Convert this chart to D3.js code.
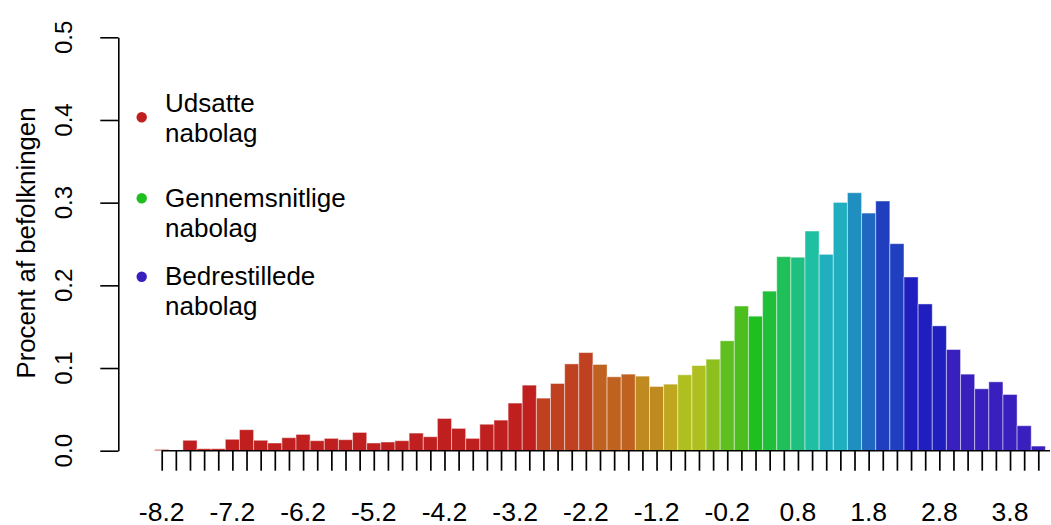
<!DOCTYPE html>
<html>
<head>
<meta charset="utf-8">
<script src="https://cdn.jsdelivr.net/npm/d3@7"></script>
<style>
  html, body { margin: 0; padding: 0; background: #fff; }
  svg { display: block; font-family: "Liberation Sans", Arial, sans-serif; }
</style>
</head>
<body>
<svg id="chart" width="1051" height="525"></svg>
<script>
// ---- data ----
const bins = [-8.2,-8.0,-7.8,-7.6,-7.4,-7.2,-7.0,-6.8,-6.6,-6.4,-6.2,-6.0,-5.8,-5.6,-5.4,-5.2,-5.0,-4.8,-4.6,-4.4,
  -4.2,-4.0,-3.8,-3.6,-3.4,-3.2,-3.0,-2.8,-2.6,-2.4,-2.2,-2.0,-1.8,-1.6,-1.4,-1.2,-1.0,-0.8,-0.6,-0.4,
  -0.2,0.0,0.2,0.4,0.6,0.8,1.0,1.2,1.4,1.6,1.8,2.0,2.2,2.4,2.6,2.8,3.0,3.2,3.4,3.6,3.8,4.0,4.2];
const shares = [0.0015,0,0.0126,0.0024,0.0024,0.0138,0.0254,0.0126,0.0093,0.0157,0.0197,0.0121,0.0149,0.0133,0.0221,0.0093,0.0105,0.0121,0.0213,0.0169,
  0.039,0.027,0.0149,0.032,0.037,0.0576,0.0793,0.0636,0.0813,0.105,0.1187,0.1043,0.0894,0.0926,0.0902,0.0777,0.0805,0.0918,0.103,0.1107,
  0.1329,0.175,0.1627,0.193,0.2347,0.234,0.2657,0.2375,0.3003,0.312,0.2874,0.302,0.2504,0.2101,0.1775,0.151,0.1224,0.0926,0.0749,0.0833,0.068,0.0302,0.0056];
const xTickLabels = ["-8.2","-7.2","-6.2","-5.2","-4.2","-3.2","-2.2","-1.2","-0.2","0.8","1.8","2.8","3.8"];
const yTicks = [0, 0.1, 0.2, 0.3, 0.4, 0.5];
const yTickLabels = ["0.0","0.1","0.2","0.3","0.4","0.5"];
const yTitle = "Procent af befolkningen";
const legendLabels = [["Udsatte","nabolag"],["Gennemsnitlige","nabolag"],["Bedrestillede","nabolag"]];
const legendHues = [0, 120, 250];

// hue ramp over the index axis (colour styling)
const hueStopsX = [-3.0,-2.8,-2.2,-2.0,-1.6,-1.4,-1.2,-1.0,-0.8,-0.6,-0.4,-0.2,0.0,0.2,0.4,0.6,0.8,1.0,1.2,1.4,1.6,1.8,2.0,2.2,2.4,2.8,3.0];
const hueStopsH = [0,12.6,12.6,25,25,40,40,51,66,66,79,96,103,120,130,142,156,170,186,186,198,213,228,228,240,240,250];
const hue = d3.scaleLinear().domain(hueStopsX).range(hueStopsH).clamp(true);
const colorOf = h => d3.hsl(h, 0.72, 0.435).toString();

// ---- layout ----
const svg = d3.select("#chart");
const x = d3.scaleLinear().domain([-8.2, 4.2]).range([161.7, 1038.3]);
const y = d3.scaleLinear().domain([0, 0.5]).range([450.7, 37.3]);
const bw = x(0.2) - x(0);

// bars
svg.append("g").selectAll("rect")
  .data(bins.map((b, i) => ({ b, v: shares[i] })))
  .join("rect")
  .attr("x", d => x(d.b) - bw / 2)
  .attr("width", bw)
  .attr("y", d => y(d.v))
  .attr("height", d => y(0) - y(d.v))
  .attr("fill", d => colorOf(hue(d.b)))
  .attr("stroke", "#ffffff")
  .attr("stroke-opacity", 0.45)
  .attr("stroke-width", 1);

// x axis ticks
const xAxis = d3.axisBottom(x).tickValues(bins).tickSize(20).tickFormat("");
const gx = svg.append("g").attr("transform", `translate(0,${y(0)})`).call(xAxis);
gx.select(".domain").remove();
gx.selectAll(".tick line").attr("stroke", "#000").attr("stroke-width", 1.7);
svg.append("line")
  .attr("x1", x(-8.2)).attr("x2", 1050)
  .attr("y1", y(0)).attr("y2", y(0))
  .attr("stroke", "#000").attr("stroke-width", 1.6);

svg.append("g").selectAll("text")
  .data(xTickLabels)
  .join("text")
  .attr("x", d => x(+d))
  .attr("y", 520.5)
  .attr("text-anchor", "middle")
  .attr("font-size", 26.5)
  .attr("fill", "#000")
  .text(d => d);

// y axis
const yAxis = d3.axisLeft(y).tickValues(yTicks).tickSize(18).tickSizeOuter(0).tickFormat("");
const gy = svg.append("g").attr("transform", "translate(118.3,0)").call(yAxis);
gy.selectAll(".domain, .tick line").attr("stroke", "#000").attr("stroke-width", 1.6);

svg.append("g").selectAll("text")
  .data(yTicks)
  .join("text")
  .attr("transform", d => `translate(71.7,${y(d)}) rotate(-90)`)
  .attr("text-anchor", "middle")
  .attr("font-size", 24)
  .attr("fill", "#000")
  .text((d, i) => yTickLabels[i]);

svg.append("text")
  .attr("transform", `translate(35,243) rotate(-90)`)
  .attr("text-anchor", "middle")
  .attr("font-size", 25.8)
  .attr("fill", "#000")
  .text(yTitle);

// legend
const dotY = [117.3, 198.3, 276.7];
const lineY = [[111.7, 141.7], [206.7, 236.7], [285, 315]];
const lg = svg.append("g");
legendLabels.forEach((lines, i) => {
  lg.append("circle")
    .attr("cx", 141.7).attr("cy", dotY[i]).attr("r", 5.2)
    .attr("fill", colorOf(legendHues[i]));
  lines.forEach((t, j) => {
    lg.append("text")
      .attr("x", 165)
      .attr("y", lineY[i][j])
      .attr("font-size", 26)
      .attr("fill", "#000")
      .text(t);
  });
});
</script>
</body>
</html>
